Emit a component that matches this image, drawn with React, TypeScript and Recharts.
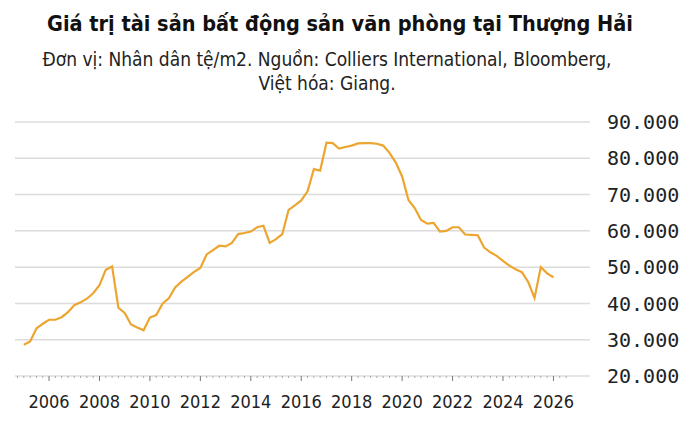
import { LineChart, Line, XAxis, YAxis, CartesianGrid } from 'recharts'

// Shanghai office property value, CNY per m2, quarterly from 2005 Q1
const years = [
  2005, 2006, 2007, 2008, 2009, 2010, 2011, 2012, 2013, 2014, 2015,
  2016, 2017, 2018, 2019, 2020, 2021, 2022, 2023, 2024, 2025, 2026,
]
const prices = [
  [28600, 29500, 33100, 34400],
  [35500, 35500, 36200, 37600],
  [39500, 40300, 41300, 42800],
  [45000, 49300, 50200, 38800],
  [37400, 34200, 33400, 32600],
  [36100, 36800, 39900, 41400],
  [44400, 46000, 47300, 48700],
  [49800, 53500, 54700, 55900],
  [55700, 56700, 59100, 59400],
  [59800, 61000, 61400, 56700],
  [57700, 59100, 65800, 67000],
  [68400, 70900, 77000, 76600],
  [84300, 84200, 82700, 83100],
  [83500, 84100, 84200, 84200],
  [84000, 83500, 81500, 78800],
  [75000, 68500, 66300, 63000],
  [62000, 62200, 59800, 60000],
  [61000, 61000, 59000, 58900],
  [58800, 55400, 54100, 53100],
  [51700, 50400, 49400, 48600],
  [45900, 41500, 50000, 48300],
  [47200],
]
const yTicks = [20000, 30000, 40000, 50000, 60000, 70000, 80000, 90000]
const yearLabels = [2006, 2008, 2010, 2012, 2014, 2016, 2018, 2020, 2022, 2024, 2026]

const data = years.flatMap((year, i) =>
  prices[i].map((value, q) => ({ t: year + q * 0.25, value }))
)

// quarterly minor ticks along the bottom, majors carry the labels
const xTicks: number[] = []
for (let t = 2004.75; t <= 2026.5; t += 0.25) xTicks.push(t)

const sans = "'DejaVu Sans Condensed', 'DejaVu Sans', sans-serif"

const YearTick = ({ x, y, payload }: any) => {
  const v = payload.value
  const major = yearLabels.includes(v)
  return (
    <g>
      <line x1={x} x2={x} y1={y} y2={y + (major ? 5 : 2)} stroke={major ? '#777' : '#aaa'} strokeWidth={1} />
      {major && (
        <text x={x} y={y + 32} textAnchor="middle" fill="#222" fontSize={18} fontFamily={sans} style={{ fontStretch: 'condensed' }}>
          {v}
        </text>
      )}
    </g>
  )
}

export default function App() {
  return (
    <div style={{ position: 'absolute', left: 0, top: 0, width: 700, height: 424, background: '#fff', overflow: 'hidden' }}>
      <div
        style={{
          position: 'absolute', left: 0, top: 12, width: 680, textAlign: 'center',
          fontFamily: sans, fontStretch: 'condensed', fontWeight: 'bold', fontSize: 21.5, lineHeight: '24px',
          color: '#111', whiteSpace: 'nowrap',
        }}
      >
        Giá trị tài sản bất động sản văn phòng tại Thượng Hải
      </div>
      <div
        style={{
          position: 'absolute', left: 0, top: 47, width: 654, textAlign: 'center',
          fontFamily: sans, fontStretch: 'condensed', fontSize: 19, lineHeight: '24px',
          color: '#222', whiteSpace: 'nowrap',
        }}
      >
        Đơn vị: Nhân dân tệ/m2. Nguồn: Colliers International, Bloomberg,
        <br />
        Việt hóa: Giang.
      </div>
      <div style={{ position: 'absolute', left: 0, top: 0 }}>
        <LineChart width={700} height={424} data={data} margin={{ top: 122, right: 0, bottom: 0, left: 15 }}>
          <CartesianGrid vertical={false} stroke="#dcdcdc" strokeWidth={1.5} />
          <XAxis
            dataKey="t"
            type="number"
            domain={[2004.65, 2027.45]}
            ticks={xTicks}
            interval={0}
            axisLine={false}
            tickLine={false}
            tickSize={0}
            tickMargin={0}
            tick={<YearTick />}
            height={48}
          />
          <YAxis
            orientation="right"
            domain={[20000, 90000]}
            ticks={yTicks}
            axisLine={false}
            tickLine={false}
            tickSize={0}
            tickMargin={17}
            width={110}
            tickFormatter={(v: number) => v.toLocaleString('de-DE')}
            tick={{ fill: '#222', fontSize: 20, fontFamily: "'DejaVu Sans Mono', monospace" }}
          />
          <Line
            type="linear"
            dataKey="value"
            stroke="#eca530"
            strokeWidth={2.2}
            dot={false}
            isAnimationActive={false}
          />
        </LineChart>
      </div>
    </div>
  )
}
